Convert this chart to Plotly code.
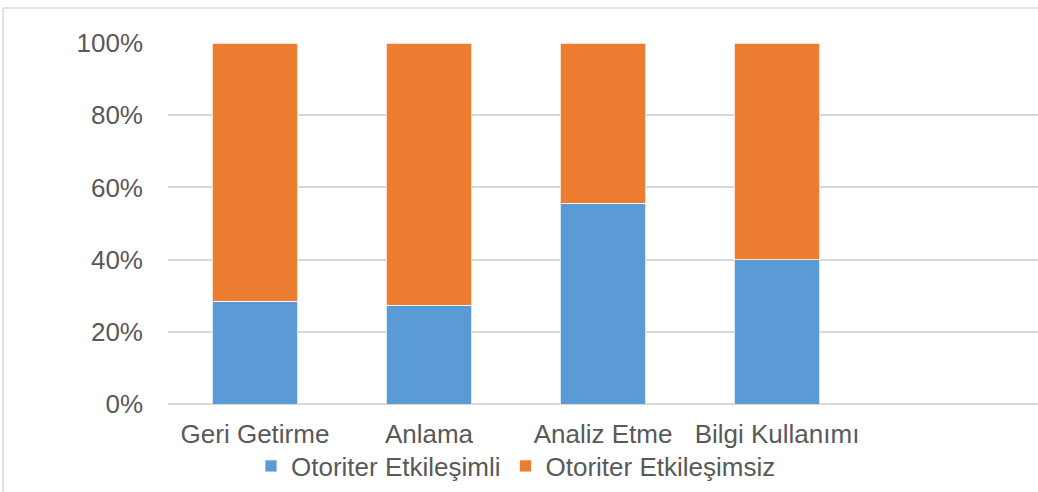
import plotly.graph_objects as go

categories = ["Geri Getirme", "Anlama", "Analiz Etme", "Bilgi Kullanımı"]
series_names = ["Otoriter Etkileşimli", "Otoriter Etkileşimsiz"]
etkilesimli = [28.4, 27.4, 55.6, 40.0]
etkilesimsiz = [71.6, 72.6, 44.4, 60.0]
colors = ["#5B9BD5", "#ED7D31"]

W, H = 1038, 492
L, R, T, B = 168, 0, 43, 88
FS = 26

fig = go.Figure()
for name, vals, col in zip(series_names, [etkilesimli, etkilesimsiz], colors):
    fig.add_trace(go.Bar(
        x=categories, y=vals, name=name,
        marker=dict(color=col, line=dict(color="white", width=0.75)),
    ))

fig.update_layout(
    width=W, height=H,
    barmode="stack", barnorm="percent", bargap=0.51,
    margin=dict(l=L, r=R, t=T, b=B, pad=0),
    paper_bgcolor="white", plot_bgcolor="white",
    font=dict(family="Liberation Sans, Arial, sans-serif", size=FS, color="#595959"),
    showlegend=True,
    legend=dict(orientation="h", x=(516 - L) / (W - L - R), xanchor="center",
                y=(404 - 466) / 361, yanchor="middle",
                bgcolor="rgba(0,0,0,0)",
                font=dict(size=FS, color="#595959"),
                itemwidth=30, traceorder="normal", tracegroupgap=0),
    xaxis=dict(range=[-0.5, 4.5], showgrid=False, showline=False, ticks="",
               tickfont=dict(size=FS, color="#595959"), ticklabelstandoff=12),
    yaxis=dict(range=[0, 100], tickvals=[0, 20, 40, 60, 80, 100],
               ticktext=["0%", "20%", "40%", "60%", "80%", "100%"],
               showgrid=True, gridcolor="#D9D9D9", gridwidth=1.5,
               zeroline=True, zerolinecolor="#D9D9D9", zerolinewidth=1.5,
               showline=False, ticks="", ticklabelstandoff=24,
               tickfont=dict(size=FS, color="#595959")),
    shapes=[
        dict(type="line", xref="paper", yref="paper",
             x0=(3 - L) / (W - L - R), x1=(3 - L) / (W - L - R),
             y0=(404 - 8) / 361, y1=(404 - 500) / 361,
             line=dict(color="#D9D9D9", width=1.5)),
        dict(type="line", xref="paper", yref="paper",
             x0=(3 - L) / (W - L - R), x1=1.01,
             y0=(404 - 8) / 361, y1=(404 - 8) / 361,
             line=dict(color="#D9D9D9", width=1.5)),
    ],
)

fig.write_html("out.html")
